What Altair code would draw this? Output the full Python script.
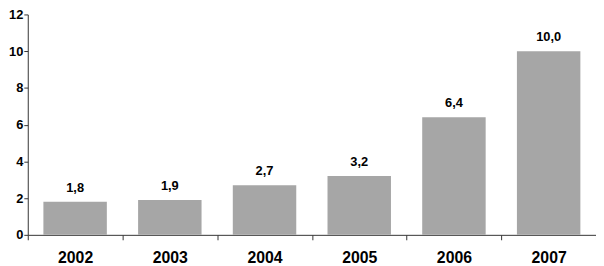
import altair as alt
import pandas as pd

years = ["2002", "2003", "2004", "2005", "2006", "2007"]
values = [1.8, 1.9, 2.7, 3.2, 6.4, 10.0]
labels = ["1,8", "1,9", "2,7", "3,2", "6,4", "10,0"]
y_ticks = [0, 2, 4, 6, 8, 10, 12]

df = pd.DataFrame({"year": years, "value": values, "label": labels})

axis_col = "#333333"
x = alt.X("year:N", sort=years, title=None,
          scale=alt.Scale(paddingInner=0, paddingOuter=0),
          axis=alt.Axis(labelAngle=0, labelFontSize=16, labelFontWeight="bold",
                        labelColor="#000000", labelFont="Liberation Sans",
                        labelPadding=10, tickBand="extent", tickSize=5,
                        tickColor=axis_col, domainColor=axis_col, grid=False))
y = alt.Y("value:Q", title=None,
          scale=alt.Scale(domain=[0, 12], nice=False),
          axis=alt.Axis(values=y_ticks, labelFontSize=13, labelOverlap=False,
                        labelFontWeight="bold", labelColor="#000000",
                        labelFont="Liberation Sans", labelPadding=1, tickSize=4,
                        tickColor=axis_col, domainColor=axis_col, grid=False))

bars = alt.Chart(df).mark_bar(color="#a6a6a6", width={"band": 0.67}).encode(x=x, y=y)
text = alt.Chart(df).mark_text(baseline="bottom", dy=-7, fontSize=13, fontWeight="bold",
                               font="Liberation Sans", color="#000000").encode(
    x=x, y=y, text="label:N")

chart = (bars + text).properties(
    width=575, height=223,
    autosize=alt.AutoSizeParams(type="none"),
    padding={"left": 20, "top": 5, "right": 0, "bottom": 30},
).configure_view(stroke=None)

chart.save("out.html", embed_options={"renderer": "svg", "actions": False})
